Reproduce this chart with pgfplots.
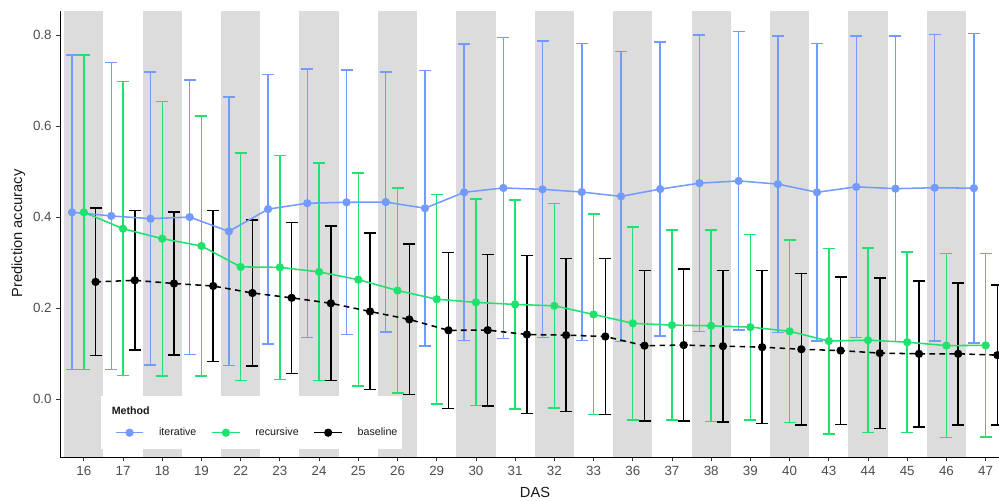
\documentclass[border=0pt]{standalone}
\usepackage{fontspec}
\setmainfont{Liberation Sans}
\usepackage{pgfplots}
\pgfplotsset{compat=1.18}
\usepackage{pgfplotstable}

\definecolor{iterblue}{RGB}{115,155,255}
\definecolor{recgreen}{RGB}{30,225,110}
\definecolor{bandgray}{RGB}{220,220,220}
\definecolor{ticktext}{RGB}{77,77,77}
\definecolor{tickline}{RGB}{51,51,51}

% mean and standard deviation of prediction accuracy per DAS (index i)
\pgfplotstableread{
i mean sd
0 0.411 0.346
1 0.403 0.337
2 0.397 0.322
3 0.4005 0.3015
4 0.369 0.295
5 0.418 0.296
6 0.431 0.295
7 0.433 0.291
8 0.4335 0.2855
9 0.420 0.303
10 0.455 0.326
11 0.4645 0.3305
12 0.4615 0.326
13 0.4555 0.3265
14 0.446 0.319
15 0.462 0.323
16 0.475 0.326
17 0.480 0.328
18 0.473 0.326
19 0.455 0.327
20 0.467 0.331
21 0.463 0.336
22 0.465 0.337
23 0.464 0.340
}\iterative

\pgfplotstableread{
i mean sd
0 0.411 0.346
1 0.375 0.323
2 0.353 0.302
3 0.337 0.286
4 0.291 0.250
5 0.290 0.246
6 0.280 0.239
7 0.263 0.234
8 0.239 0.225
9 0.220 0.230
10 0.213 0.227
11 0.2085 0.2295
12 0.2055 0.2245
13 0.1865 0.2205
14 0.167 0.212
15 0.163 0.209
16 0.1615 0.2105
17 0.1586 0.204
18 0.1495 0.2005
19 0.128 0.204
20 0.130 0.203
21 0.1255 0.1985
22 0.118 0.202
23 0.1185 0.2015
}\recursive

\pgfplotstableread{
i mean sd
0 0.258 0.162
1 0.2615 0.153
2 0.2545 0.157
3 0.249 0.1665
4 0.2336 0.1604
5 0.223 0.166
6 0.211 0.170
7 0.193 0.172
8 0.1755 0.1655
9 0.1516 0.1714
10 0.152 0.1667
11 0.1424 0.1734
12 0.141 0.168
13 0.138 0.172
14 0.1178 0.1658
15 0.1192 0.1672
16 0.1168 0.1668
17 0.1145 0.168
18 0.110 0.1668
19 0.107 0.162
20 0.1015 0.1655
21 0.100 0.1605
22 0.100 0.156
23 0.097 0.154
}\baseline

\begin{document}
\begin{tikzpicture}
\useasboundingbox (0pt,0pt) rectangle (749.25pt,375pt);
\begin{axis}[
  at={(45.225pt,32.025pt)}, anchor=south west,
  scale only axis,
  width=704.0pt, height=334.7pt,
  xmin=-0.6, xmax=23.34,
  ymin=-0.1275, ymax=0.8534,
  axis x line*=bottom, axis y line*=left,
  axis line style={-, line width=0.8pt, black},
  tick align=outside,
  major tick length=3pt,
  tick style={line width=0.6pt, tickline},
  xtick={0,...,23},
  xticklabels={16,17,18,19,22,23,24,25,26,29,30,31,32,33,36,37,38,39,40,43,44,45,46,47},
  ytick={0,0.2,0.4,0.6,0.8},
  yticklabel style={/pgf/number format/fixed, /pgf/number format/fixed zerofill, /pgf/number format/precision=1},
  /pgf/number format/assume math mode=true,
  ticklabel style={font=\fontsize{10}{12}\selectfont, text=ticktext},
  legend columns=3,
  legend cell align=left,
  legend style={at={(axis cs:0.79,-0.0734)}, anchor=west, draw=none, fill=none,
    inner sep=0pt, column sep=11.25pt,
    font=\fontsize{8}{9.6}\selectfont, text=black!90,
    nodes={inner sep=0pt}},
  legend image code/.code={\draw[mark repeat=2,mark phase=2] plot coordinates {(0pt,0pt) (10.3pt,0pt) (20.6pt,0pt)};},
  error bars/error mark=|,
]
% alternating background bands for every second DAS
\pgfplotsinvokeforeach{0,2,4,6,8,10,12,14,16,18,20,22}{
  \fill[bandgray] (axis cs:#1-0.5,-0.1275) rectangle (axis cs:#1+0.5,0.8534);
}

% error bars (mean +/- sd)
\addplot[draw=none, mark=none, forget plot,
  error bars/.cd, y dir=both, y explicit,
  error bar style={draw=iterblue, solid, line width=1.1pt},
  error mark options={draw=iterblue, solid, line width=1.1pt, mark size=4.5pt}]
  table[x expr=\thisrow{i}-0.3, y=mean, y error=sd] {\iterative};
\addplot[draw=none, mark=none, forget plot,
  error bars/.cd, y dir=both, y explicit,
  error bar style={draw=recgreen, solid, line width=1.1pt},
  error mark options={draw=recgreen, solid, line width=1.1pt, mark size=4.5pt}]
  table[x=i, y=mean, y error=sd] {\recursive};
\addplot[draw=none, mark=none, forget plot,
  error bars/.cd, y dir=both, y explicit,
  error bar style={draw=black, solid, line width=1.1pt},
  error mark options={draw=black, solid, line width=1.1pt, mark size=4.5pt}]
  table[x expr=\thisrow{i}+0.3, y=mean, y error=sd] {\baseline};

% mean lines with points
\addplot[iterblue, line width=1.15pt, mark=*, mark size=2.5pt, mark options={solid}]
  table[x expr=\thisrow{i}-0.3, y=mean] {\iterative};
\addlegendentry{iterative}
\addplot[recgreen, line width=1.15pt, mark=*, mark size=2.5pt, mark options={solid}]
  table[x=i, y=mean] {\recursive};
\addlegendentry{recursive}
\addplot[black, line width=1.15pt, dash pattern=on 4.2pt off 3.3pt, mark=*, mark size=2.5pt, mark options={solid},
  legend image post style={solid}]
  table[x expr=\thisrow{i}+0.3, y=mean] {\baseline};
\addlegendentry{baseline}

% legend panel and title
\fill[white] (axis cs:0.426,0.0079) rectangle (axis cs:8.103,-0.1099);
\node[anchor=west, inner sep=0pt, font=\fontsize{8}{9.6}\selectfont\bfseries, text=black!90]
  at (axis cs:0.706,-0.0257) {Method};
\end{axis}
\node[rotate=90, anchor=center, font=\fontsize{11}{13}\selectfont, text=black!90] at (13.7pt,199.9pt) {Prediction accuracy};
\node[anchor=base, font=\fontsize{11}{13}\selectfont, text=black!90] at (401.25pt,2.25pt) {DAS};
\end{tikzpicture}
\end{document}
